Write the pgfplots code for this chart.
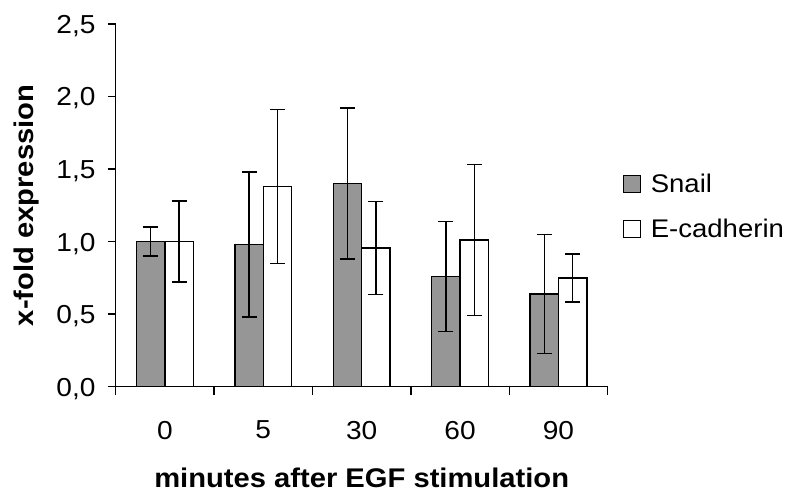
\documentclass[border=0pt]{standalone}
\usepackage{pgfplots}
\pgfplotsset{compat=1.18}
\usepackage{fontspec}
\setmainfont{Liberation Sans}[FakeStretch=1.08]
\definecolor{barGray}{RGB}{150,150,150}
\begin{document}
\begin{tikzpicture}
\begin{axis}[
  at={(0,0)}, anchor=south west,
  scale only axis, width=492bp, height=362.7bp,
  xmin=-0.5, xmax=4.5, ymin=0, ymax=2.5,
  axis lines*=left,
  axis line style={line width=1.4bp, black},
  tick style={line width=1.4bp, black},
  tick align=outside,
  major tick length=8bp,
  ytick={0,0.5,1,1.5,2,2.5},
  /pgf/number format/.cd, use comma, fixed, fixed zerofill, precision=1, assume math mode=true,
  /pgfplots/.cd,
  xtick={-0.5,0.5,1.5,2.5,3.5,4.5},
  xticklabels={},
  extra x ticks={0,1,2,3,4},
  extra x tick labels={0,5,30,60,90},
  extra x tick style={major tick length=0pt, tick style={draw=none}},
  xticklabel style={font=\fontsize{26bp}{30bp}\selectfont, inner sep=0pt, anchor=north, yshift=-34bp},
  yticklabel style={font=\fontsize{26bp}{30bp}\selectfont, inner sep=0pt, anchor=east, xshift=-12bp, yshift=-2bp},
  xlabel={minutes after EGF stimulation},
  ylabel={x-fold expression},
  xlabel style={font=\fontsize{27bp}{30bp}\selectfont\bfseries, at={(axis description cs:0.5,-0.278)}, anchor=base, inner sep=0pt},
  ylabel style={font=\fontsize{27bp}{30bp}\selectfont\bfseries, at={(axis description cs:-0.168,0.5)}, anchor=base, inner sep=0pt},
  legend style={draw=none, fill=none, at={(rel axis cs:1.031,0.592)}, anchor=north west, inner sep=0pt,
    font=\fontsize{25.5bp}{28bp}\selectfont, row sep=21bp},
  legend cell align=left,
  ybar, bar width=0.288,
]
\addplot[bar shift=0pt, fill=barGray, draw=black, line width=1.4bp,
  legend image code/.code={\draw[fill=barGray, draw=black, line width=1.3bp] (0bp,-8.5bp) rectangle (17bp,8.5bp); \path[draw=none, fill=none] (17bp,0bp) rectangle (25bp,0.1bp);},
  error bars/.cd, y dir=both, y explicit, error mark=|,
  error bar style={line width=1.5bp, black},
  error mark options={black, mark size=7.5bp, line width=1.5bp}]
coordinates {
  (-0.144,1.00) +- (0,0.10)
  (0.856,0.98) +- (0,0.50)
  (1.856,1.40) +- (0,0.52)
  (2.856,0.76) +- (0,0.38)
  (3.856,0.64) +- (0,0.41)
};
\addlegendentry{Snail}
\addplot[bar shift=0pt, fill=white, draw=black, line width=1.4bp,
  legend image code/.code={\draw[fill=white, draw=black, line width=1.3bp] (0bp,-8.5bp) rectangle (17bp,8.5bp); \path[draw=none, fill=none] (17bp,0bp) rectangle (25bp,0.1bp);},
  error bars/.cd, y dir=both, y explicit, error mark=|,
  error bar style={line width=1.5bp, black},
  error mark options={black, mark size=7.5bp, line width=1.5bp}]
coordinates {
  (0.144,1.00) +- (0,0.28)
  (1.144,1.38) +- (0,0.53)
  (2.144,0.955) +- (0,0.32)
  (3.144,1.01) +- (0,0.52)
  (4.144,0.75) +- (0,0.165)
};
\addlegendentry{E-cadherin}
\end{axis}
\pgfresetboundingbox
\path (-115.7bp,-106.3bp) rectangle (673.3bp,386.7bp);
\end{tikzpicture}
\end{document}
